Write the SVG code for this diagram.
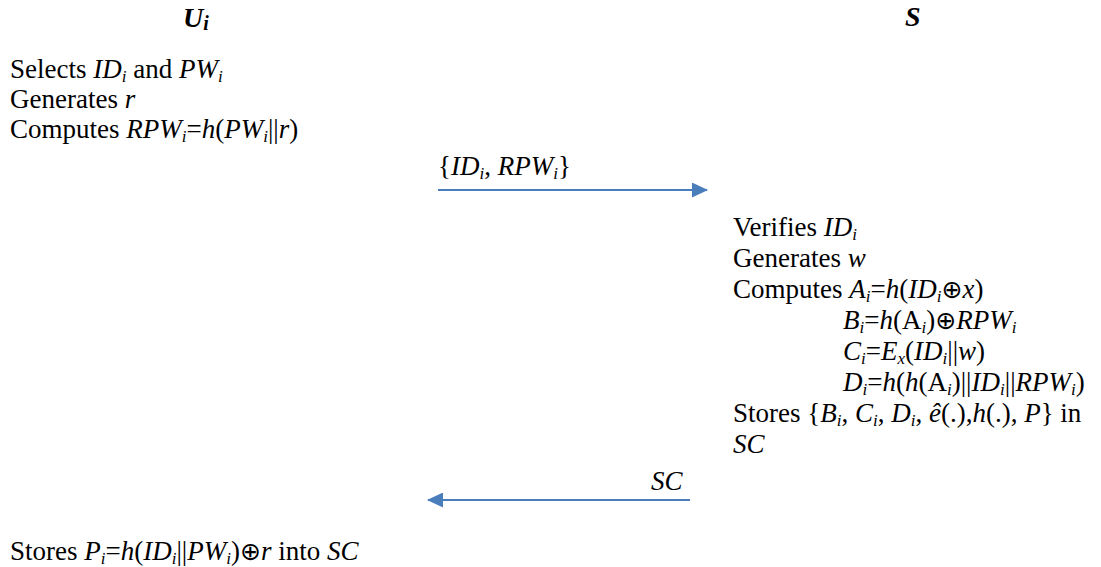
<svg xmlns="http://www.w3.org/2000/svg" width="1101" height="567" viewBox="0 0 1101 567" font-family="'Liberation Serif', 'Times New Roman', serif">
<style>
text{font-family:'Liberation Serif','Times New Roman',serif;font-size:27px;fill:#000}
.it{font-style:italic}
.sb{font-style:italic;font-size:17px}
.hd{font-weight:bold;font-style:italic;font-size:28px}
.hs{font-weight:bold;font-style:italic;font-size:20px}
.ox{font-family:'DejaVu Sans',sans-serif;font-size:25px}
.msg{stroke:#4a7ebb;stroke-width:2;fill:none}
</style>
<defs>
<marker id="ah2" markerWidth="16" markerHeight="15" refX="15" refY="7.5" orient="auto" markerUnits="userSpaceOnUse" viewBox="0 0 16 15">
<path d="M0,0 L16,7.5 L0,15 z" fill="#4a7ebb"/>
</marker>
</defs>

<g id="user">
<text class="hd" x="183" y="27">U<tspan class="hs" dy="3">i</tspan></text>
<text x="10" y="78">Selects <tspan class="it">ID</tspan><tspan class="sb" dy="4">i</tspan><tspan dy="-4"> and </tspan><tspan class="it">PW</tspan><tspan class="sb" dy="4">i</tspan></text>
<text x="10" y="108">Generates <tspan class="it">r</tspan></text>
<text x="10" y="138">Computes <tspan class="it">RPW</tspan><tspan class="sb" dy="4">i</tspan><tspan dy="-4">=</tspan><tspan class="it">h</tspan>(<tspan class="it">PW</tspan><tspan class="sb" dy="4">i</tspan><tspan dy="-4">||</tspan><tspan class="it">r</tspan>)</text>
<text x="10" y="560">Stores <tspan class="it">P</tspan><tspan class="sb" dy="4">i</tspan><tspan dy="-4">=</tspan><tspan class="it">h</tspan>(<tspan class="it">ID</tspan><tspan class="sb" dy="4">i</tspan><tspan dy="-4">||</tspan><tspan class="it">PW</tspan><tspan class="sb" dy="4">i</tspan><tspan dy="-4">)</tspan><tspan class="ox">⊕</tspan><tspan class="it">r</tspan> into <tspan class="it">SC</tspan></text>
</g>

<g id="server">
<text class="hd" x="905" y="26">S</text>
<text x="733" y="236">Verifies <tspan class="it">ID</tspan><tspan class="sb" dy="4">i</tspan></text>
<text x="733" y="267">Generates <tspan class="it">w</tspan></text>
<text x="733" y="298">Computes <tspan class="it">A</tspan><tspan class="sb" dy="4">i</tspan><tspan dy="-4">=</tspan><tspan class="it">h</tspan>(<tspan class="it">ID</tspan><tspan class="sb" dy="4">i</tspan><tspan class="ox" dy="-4">⊕</tspan><tspan class="it">x</tspan>)</text>
<text x="843" y="329"><tspan class="it">B</tspan><tspan class="sb" dy="4">i</tspan><tspan dy="-4">=</tspan><tspan class="it">h</tspan>(A<tspan class="sb" dy="4">i</tspan><tspan dy="-4">)</tspan><tspan class="ox">⊕</tspan><tspan class="it">RPW</tspan><tspan class="sb" dy="4">i</tspan></text>
<text x="843" y="360"><tspan class="it">C</tspan><tspan class="sb" dy="4">i</tspan><tspan dy="-4">=</tspan><tspan class="it">E</tspan><tspan class="sb" dy="4">x</tspan><tspan dy="-4">(</tspan><tspan class="it">ID</tspan><tspan class="sb" dy="4">i</tspan><tspan dy="-4">||</tspan><tspan class="it">w</tspan>)</text>
<text x="843" y="391"><tspan class="it">D</tspan><tspan class="sb" dy="4">i</tspan><tspan dy="-4">=</tspan><tspan class="it">h</tspan>(<tspan class="it">h</tspan>(A<tspan class="sb" dy="4">i</tspan><tspan dy="-4">)||</tspan><tspan class="it">ID</tspan><tspan class="sb" dy="4">i</tspan><tspan dy="-4">||</tspan><tspan class="it">RPW</tspan><tspan class="sb" dy="4">i</tspan><tspan dy="-4">)</tspan></text>
<text x="733" y="422">Stores {<tspan class="it">B</tspan><tspan class="sb" dy="4">i</tspan><tspan dy="-4">, </tspan><tspan class="it">C</tspan><tspan class="sb" dy="4">i</tspan><tspan dy="-4">, </tspan><tspan class="it">D</tspan><tspan class="sb" dy="4">i</tspan><tspan dy="-4">, </tspan><tspan class="it">ê</tspan>(.),<tspan class="it">h</tspan>(.), <tspan class="it">P</tspan>} in</text>
<text x="733" y="453" class="it">SC</text>
</g>

<g id="connectors">
<line class="msg" x1="438" y1="190" x2="707" y2="190" marker-end="url(#ah2)"/>
<text x="438" y="175">{<tspan class="it">ID</tspan><tspan class="sb" dy="4">i</tspan><tspan dy="-4">, </tspan><tspan class="it">RPW</tspan><tspan class="sb" dy="4">i</tspan><tspan dy="-4">}</tspan></text>
<line class="msg" x1="690" y1="500" x2="428" y2="500" marker-end="url(#ah2)"/>
<text x="651" y="490" class="it">SC</text>
</g>
</svg>
